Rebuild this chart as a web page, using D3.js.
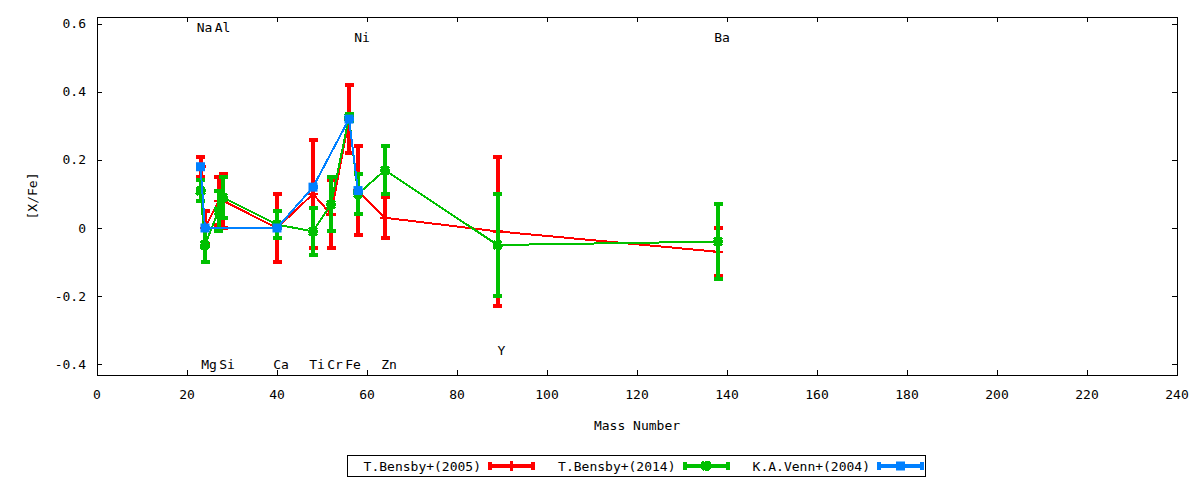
<!DOCTYPE html>
<html>
  <head>
    <meta charset="utf-8">
    <title>[X/Fe] vs Mass Number</title>
    <script src="https://d3js.org/d3.v7.min.js"></script>
    <style>
body {
    margin: 0;
    background: #fff;
}
svg {
    font-family: "DejaVu Sans Mono", monospace;
    font-size: 13px;
}
.axis path {
    display: none;
}
.axis line {
    stroke: #000;
    shape-rendering: crispEdges;
}
.frame {
    fill: none;
    stroke: #000;
    shape-rendering: crispEdges;
}
.err, .conn, .mark {
    fill: none;
    shape-rendering: crispEdges;
}
    </style>
  </head>
  <body>
    <script>
// elements, their mass numbers and where the name labels sit
var elements = ['Na', 'Mg', 'Al', 'Si', 'Ca', 'Ti', 'Cr', 'Fe', 'Ni', 'Zn', 'Y', 'Ba'];
var massNumber = [23, 24, 27, 28, 40, 48, 52, 56, 58, 64, 89, 138];
var labelY = [0.59, -0.40, 0.59, -0.40, -0.40, -0.40, -0.40, -0.40, 0.56, -0.40, -0.36, 0.56];

// T.Bensby+(2005)
var bensby05Val = [0.18, 0.00, 0.08, 0.08, 0.00, 0.10, 0.04, 0.32, 0.11, 0.03, -0.01, -0.07];
var bensby05Err = [0.03, 0.05, 0.07, 0.08, 0.10, 0.16, 0.10, 0.10, 0.13, 0.06, 0.22, 0.07];

// T.Bensby+(2014)
var bensby14Val = [0.11, -0.05, 0.05, 0.09, 0.01, -0.01, 0.07, 0.325, 0.10, 0.17, -0.05, -0.04];
var bensby14Err = [0.03, 0.05, 0.06, 0.06, 0.04, 0.07, 0.08, 0.01, 0.06, 0.07, 0.15, 0.11];

// K.A.Venn+(2004), only six elements
var vennElements = ['Na', 'Mg', 'Ca', 'Ti', 'Fe', 'Ni'];
var vennVal = [0.18, 0.00, 0.00, 0.12, 0.32, 0.11];
var vennErr = [0, 0, 0, 0, 0, 0];

var seriesNames = ['T.Bensby+(2005)', 'T.Bensby+(2014)', 'K.A.Venn+(2004)'];
var seriesColors = ['#ff0000', '#00c000', '#0080ff'];

var xTicks = [0, 20, 40, 60, 80, 100, 120, 140, 160, 180, 200, 220, 240];
var yTicks = [-0.4, -0.2, 0, 0.2, 0.4, 0.6];

function points(names, vals, errs) {
    return names.map(function(n, i) {
        return { x: massNumber[elements.indexOf(n)], y: vals[i], e: errs[i] };
    });
}

var series = [
    { pts: points(elements, bensby05Val, bensby05Err), mark: 'plus' },
    { pts: points(elements, bensby14Val, bensby14Err), mark: 'star' },
    { pts: points(vennElements, vennVal, vennErr), mark: 'square' }
];
series.forEach(function(s, i) { s.name = seriesNames[i]; s.color = seriesColors[i]; });

// chart
var W = 1200, H = 480,
    pLeft = 97, pRight = 1177, pTop = 17, pBottom = 375,
    cap = 4.5;

var x = d3.scaleLinear().domain([0, 240]).range([pLeft, pRight]);
var y = d3.scaleLinear().domain([-0.432, 0.62]).range([pBottom, pTop]);

var svg = d3.select('body').append('svg')
    .attr('width', W)
    .attr('height', H);

var yFmt = function(d) { return d === 0 ? '0' : d.toFixed(1); };

// ticks on all four sides, pointing inward
svg.append('g').attr('class', 'axis')
    .attr('transform', 'translate(0,' + pBottom + ')')
    .call(d3.axisBottom(x).tickValues(xTicks).tickSize(-5).tickFormat(''));
svg.append('g').attr('class', 'axis')
    .attr('transform', 'translate(0,' + pTop + ')')
    .call(d3.axisTop(x).tickValues(xTicks).tickSize(-5).tickFormat(''));
svg.append('g').attr('class', 'axis')
    .attr('transform', 'translate(' + pLeft + ',0)')
    .call(d3.axisLeft(y).tickValues(yTicks).tickSize(-5).tickFormat(''));
svg.append('g').attr('class', 'axis')
    .attr('transform', 'translate(' + pRight + ',0)')
    .call(d3.axisRight(y).tickValues(yTicks).tickSize(-5).tickFormat(''));

svg.selectAll('text.xt')
    .data(xTicks)
  .enter().append('text')
    .attr('class', 'xt')
    .attr('x', function(d) { return x(d); })
    .attr('y', 394)
    .attr('dy', '0.35em')
    .attr('text-anchor', 'middle')
    .text(function(d) { return d; });

svg.selectAll('text.yt')
    .data(yTicks)
  .enter().append('text')
    .attr('class', 'yt')
    .attr('x', 86)
    .attr('y', function(d) { return y(d); })
    .attr('dy', '0.35em')
    .attr('text-anchor', 'end')
    .text(yFmt);

svg.append('rect')
    .attr('class', 'frame')
    .attr('x', pLeft)
    .attr('y', pTop)
    .attr('width', pRight - pLeft)
    .attr('height', pBottom - pTop);

svg.append('text')
    .attr('x', (pLeft + pRight) / 2)
    .attr('y', 425)
    .attr('dy', '0.35em')
    .attr('text-anchor', 'middle')
    .text('Mass Number');

svg.append('text')
    .attr('transform', 'translate(32,' + ((pTop + pBottom) / 2) + ') rotate(-90)')
    .attr('dy', '0.35em')
    .attr('text-anchor', 'middle')
    .text('[X/Fe]');

// element names
svg.selectAll('text.el')
    .data(elements)
  .enter().append('text')
    .attr('class', 'el')
    .attr('x', function(d, i) { return x(massNumber[i]) + 4; })
    .attr('y', function(d, i) { return y(labelY[i]); })
    .attr('dy', '0.35em')
    .attr('text-anchor', 'middle')
    .text(function(d) { return d; });

function drawMark(g, kind, cx, cy, color) {
    if (kind === 'plus') {
        g.append('path').attr('class', 'mark')
            .attr('d', 'M' + (cx - 5) + ',' + cy + 'H' + (cx + 5) + 'M' + cx + ',' + (cy - 5) + 'V' + (cy + 5))
            .attr('stroke', color).attr('stroke-width', 2.5);
    } else if (kind === 'star') {
        g.append('path').attr('class', 'mark')
            .attr('d', 'M' + (cx - 5) + ',' + cy + 'H' + (cx + 5) + 'M' + cx + ',' + (cy - 5) + 'V' + (cy + 5) +
                'M' + (cx - 4) + ',' + (cy - 4) + 'L' + (cx + 4) + ',' + (cy + 4) +
                'M' + (cx - 4) + ',' + (cy + 4) + 'L' + (cx + 4) + ',' + (cy - 4))
            .attr('stroke', color).attr('stroke-width', 3);
    } else {
        g.append('rect')
            .attr('x', cx - 4.5).attr('y', cy - 4.5)
            .attr('width', 9).attr('height', 9)
            .attr('fill', color);
    }
}

var line = d3.line()
    .x(function(d) { return x(d.x); })
    .y(function(d) { return y(d.y); });

series.forEach(function(s) {
    var g = svg.append('g');

    g.selectAll('path.err')
        .data(s.pts)
      .enter().append('path')
        .attr('class', 'err')
        .attr('stroke', s.color)
        .attr('stroke-width', 4)
        .attr('d', function(d) {
            var px = x(d.x), hi = y(d.y + d.e), lo = y(d.y - d.e);
            return 'M' + px + ',' + hi + 'V' + lo +
                'M' + (px - cap) + ',' + hi + 'H' + (px + cap) +
                'M' + (px - cap) + ',' + lo + 'H' + (px + cap);
        });

    g.append('path')
        .attr('class', 'conn')
        .attr('stroke', s.color)
        .attr('stroke-width', 2)
        .attr('d', line(s.pts));

    s.pts.forEach(function(d) { drawMark(g, s.mark, x(d.x), y(d.y), s.color); });
});

// key
var key = svg.append('g');
key.append('rect')
    .attr('class', 'frame')
    .attr('x', 347.5)
    .attr('y', 455.5)
    .attr('width', 578)
    .attr('height', 21);

series.forEach(function(s, i) {
    var tx = 481 + i * 194.5, x0 = tx + 9, x1 = tx + 52, ky = 466;
    key.append('text')
        .attr('x', tx)
        .attr('y', ky)
        .attr('dy', '0.35em')
        .attr('text-anchor', 'end')
        .text(s.name);
    key.append('path')
        .attr('class', 'err')
        .attr('stroke', s.color)
        .attr('stroke-width', 4)
        .attr('d', 'M' + x0 + ',' + ky + 'H' + x1 +
            'M' + x0 + ',' + (ky - 4) + 'V' + (ky + 4) +
            'M' + x1 + ',' + (ky - 4) + 'V' + (ky + 4));
    drawMark(key, s.mark, (x0 + x1) / 2, ky, s.color);
});
    </script>
  </body>
</html>
